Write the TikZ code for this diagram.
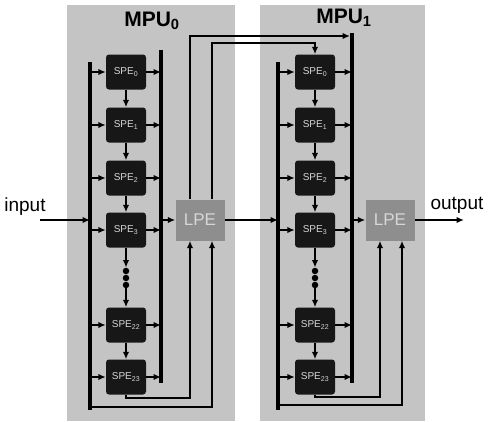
\documentclass[tikz,border=0pt]{standalone}
\usepackage{fontspec}
\setmainfont{Liberation Sans}
\usetikzlibrary{positioning,arrows.meta}
\definecolor{panelgray}{HTML}{C4C4C4}
\definecolor{speblack}{HTML}{171717}
\definecolor{lpegray}{HTML}{8E8E8E}
\definecolor{labelgray}{HTML}{D6D6D6}

\begin{document}
\begin{tikzpicture}[x=1pt,y=-1pt,
  spebox/.style={fill=speblack, rounded corners=3pt, minimum width=40pt, minimum height=35pt, inner sep=0pt, text=labelgray, font=\fontsize{10}{11}\selectfont},
  lpebox/.style={fill=lpegray, minimum width=49pt, minimum height=41pt, inner sep=0pt, text=labelgray, font=\fontsize{17}{18}\selectfont},
  dotnode/.style={circle, fill=black, inner sep=0pt, minimum size=6.5pt},
  bus/.style={line width=4pt},
  arr/.style={line width=2.1pt, -{Latex[length=7.5pt,width=6.5pt]}},
  txt/.style={font=\fontsize{19}{21}\selectfont}]
\useasboundingbox (0,0) rectangle (496,421);
\fill[panelgray] (67,5) rectangle (235,421);
\fill[panelgray] (260,5) rectangle (425,421);

\node[txt, font=\fontsize{21}{24}\selectfont\bfseries] (mpu0) at (152,21) {MPU\textsubscript{0}};
\node[txt, font=\fontsize{21}{24}\selectfont\bfseries] (mpu1) at (344,18) {MPU\textsubscript{1}};
\node[txt] (in) at (25,207) {input};
\node[txt] (out) at (457,205) {output};

\node[spebox] (m0s0) at (126,72) {SPE\textsubscript{0}};
\node[spebox] (m0s1) at (126,125) {SPE\textsubscript{1}};
\node[spebox] (m0s2) at (126,178) {SPE\textsubscript{2}};
\node[spebox] (m0s3) at (126,230) {SPE\textsubscript{3}};
\node[dotnode] (m0d1) at (126,271) {};
\node[dotnode] (m0d2) at (126,278) {};
\node[dotnode] (m0d3) at (126,285) {};
\node[spebox] (m0s22) at (126,325) {SPE\textsubscript{22}};
\node[spebox] (m0s23) at (126,377) {SPE\textsubscript{23}};
\node[lpebox] (m0lpe) at (200,220) {LPE};

\node[spebox] (m1s0) at (315,72) {SPE\textsubscript{0}};
\node[spebox] (m1s1) at (315,125) {SPE\textsubscript{1}};
\node[spebox] (m1s2) at (315,178) {SPE\textsubscript{2}};
\node[spebox] (m1s3) at (315,230) {SPE\textsubscript{3}};
\node[dotnode] (m1d1) at (315,271) {};
\node[dotnode] (m1d2) at (315,278) {};
\node[dotnode] (m1d3) at (315,285) {};
\node[spebox] (m1s22) at (315,325) {SPE\textsubscript{22}};
\node[spebox] (m1s23) at (315,377) {SPE\textsubscript{23}};
\node[lpebox] (m1lpe) at (390,220) {LPE};

\coordinate (m0lt) at (90,62);  \coordinate (m0lb) at (90,410);
\coordinate (m0rt) at (161,50); \coordinate (m0rb) at (161,383);
\coordinate (m1lt) at (278,62); \coordinate (m1lb) at (278,410);
\coordinate (m1rt) at (352,33); \coordinate (m1rb) at (352,383);
\draw[bus] (m0lt) -- (m0lb);
\draw[bus] (m0rt) -- (m0rb);
\draw[bus] (m1lt) -- (m1lb);
\draw[bus] (m1rt) -- (m1rb);

\foreach \m in {m0,m1}{
  \foreach \s in {s0,s1,s2,s3,s22,s23}{
    \draw[arr] (\m lt |- \m\s) -- (\m\s.west);
    \draw[arr] (\m\s.east) -- (\m rt |- \m\s);
  }
  \draw[arr] (\m s0) -- (\m s1);
  \draw[arr] (\m s1) -- (\m s2);
  \draw[arr] (\m s2) -- (\m s3);
  \draw[arr] (\m s3) -- (\m d1);
  \draw[arr] (\m d3) -- (\m s22);
  \draw[arr] (\m s22) -- (\m s23);
  \draw[arr] (\m rt |- \m lpe) -- (\m lpe.west);
}

\coordinate (instart) at (40,220);
\draw[arr] (instart) -- (m0lt |- instart);
\draw[arr] (m0lpe.east) -- (m1lt |- m0lpe);
\coordinate (outend) at (464,220);
\draw[arr] (m1lpe.east) -- (outend);

\coordinate (m0fa) at (190,398); \coordinate (m0fb) at (212,407);
\draw[arr] (m0s23.south) |- (m0fa) -- ([xshift=-10pt]m0lpe.south);
\draw[arr] (m0lb |- m0fb) -- (m0fb) -- ([xshift=12pt]m0lpe.south);
\coordinate (m1fa) at (380,397); \coordinate (m1fb) at (402,405);
\draw[arr] (m1s23.south) |- (m1fa) -- ([xshift=-10pt]m1lpe.south);
\draw[arr] (m1lb |- m1fb) -- (m1fb) -- ([xshift=12pt]m1lpe.south);

\coordinate (topa) at (190,36); \coordinate (topb) at (212,43);
\draw[arr] ([xshift=-10pt]m0lpe.north) -- (topa) -- ([xshift=-2pt]m1rt |- topa);
\draw[arr] ([xshift=12pt]m0lpe.north) -- (topb) -| (m1s0.north);
\end{tikzpicture}
\end{document}
